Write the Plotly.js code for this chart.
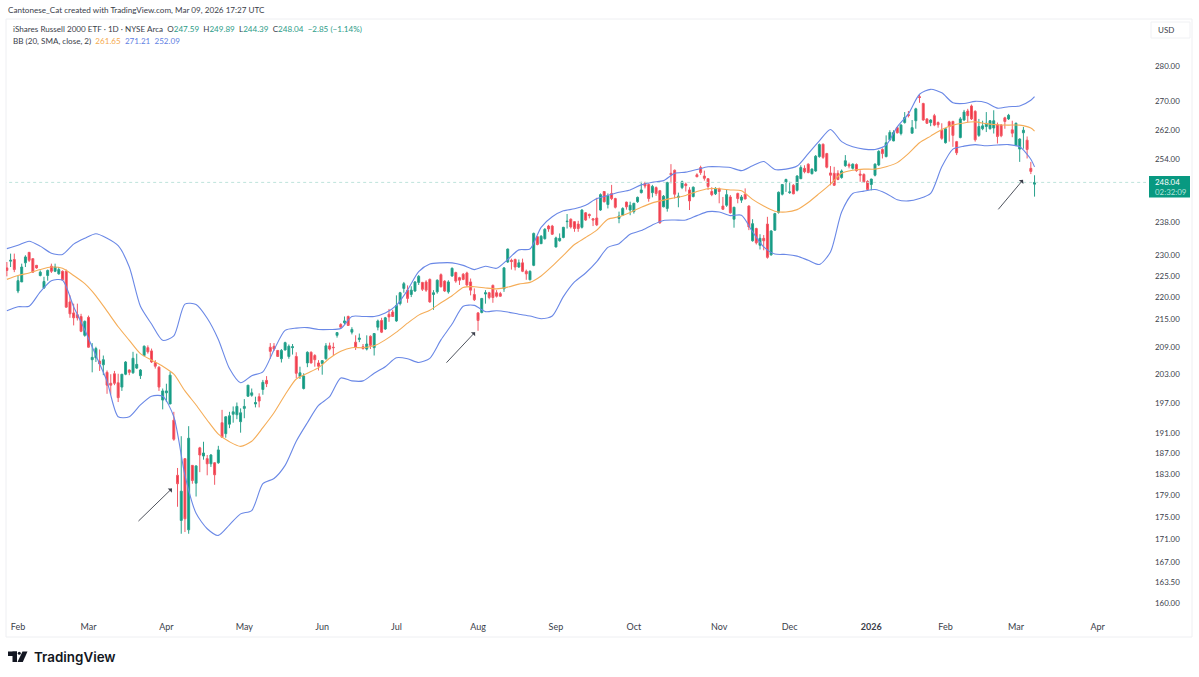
<!DOCTYPE html>
<html><head><meta charset="utf-8">
<script src="https://cdn.plot.ly/plotly-3.0.1.min.js"></script>
<style>html,body{margin:0;padding:0;background:#fff}#c{width:1199px;height:677px}</style>
</head><body><div id="c"></div>
<script>
const opens=[226.9,228.5,228.9,221.5,223.6,228.1,230.6,229.1,227.5,225.1,
222.2,225.1,227.3,226.1,225.5,226.1,226.1,219.0,216.5,216.1,
215.7,211.5,215.5,206.2,206.6,205.9,205.1,203.5,201.2,203.2,
201.3,200.4,203.1,204.0,203.4,204.4,202.8,207.1,208.8,208.1,
205.6,204.6,197.7,199.2,196.9,193.6,182.8,174.4,186.0,172.7,
184.7,181.3,188.1,186.5,186.0,185.0,185.2,185.2,193.1,190.9,
192.8,194.8,194.7,193.3,196.0,198.5,198.7,196.9,198.4,199.9,
201.8,208.9,209.1,208.2,206.4,208.3,206.9,208.8,206.9,202.6,
200.1,205.5,207.8,207.1,205.5,205.4,206.4,209.2,208.9,211.5,
213.9,214.3,215.7,212.2,210.0,210.6,209.0,208.5,211.3,208.8,
213.3,214.8,212.9,216.2,216.7,214.7,218.6,222.1,221.7,220.7,
221.5,223.5,223.5,223.6,224.2,220.7,221.3,225.3,223.8,221.3,
225.0,225.8,224.6,225.4,225.7,223.6,220.7,216.5,216.6,220.8,
221.1,222.8,221.1,220.9,222.0,228.3,228.7,228.9,227.1,228.1,
226.1,224.1,227.5,234.4,232.7,233.9,237.0,237.0,231.9,233.4,
234.2,238.1,238.7,238.1,237.5,236.7,240.3,239.9,238.8,239.0,
241.0,245.7,242.4,245.2,243.9,238.9,239.7,243.0,241.0,240.6,
243.1,245.4,247.8,247.5,245.4,246.7,245.9,241.8,241.4,250.4,
251.2,244.2,246.7,247.6,246.1,244.4,250.0,251.9,249.7,249.0,
245.7,245.1,246.4,242.0,242.2,244.3,238.7,245.2,243.5,245.0,
242.0,233.4,236.4,232.3,234.0,237.5,230.0,236.0,240.4,245.0,
248.1,245.4,247.3,246.0,249.0,251.7,252.8,250.3,251.0,254.8,
258.1,255.6,250.5,250.4,250.4,249.3,252.4,252.7,251.7,252.7,
250.2,250.1,248.3,247.5,249.9,252.6,256.7,254.8,259.3,259.0,
262.6,261.0,264.0,266.2,261.1,264.5,271.2,269.3,265.0,264.0,
265.9,264.0,261.9,258.5,264.2,264.3,258.8,259.9,264.7,267.2,
268.6,267.1,260.5,262.3,262.9,262.3,262.5,263.4,263.3,265.3,
265.0,262.0,257.8,256.8,261.2,259.2,251.7,247.59];
const highs=[228.3,230.3,230.3,225.1,227.9,229.9,230.7,229.1,227.6,226.3,
224.8,226.5,227.9,227.9,227.1,226.3,226.5,220.5,218.6,218.6,
216.3,214.8,215.9,209.8,209.0,208.4,207.1,203.9,203.1,203.8,
203.2,203.1,205.9,204.1,207.9,207.5,204.2,209.3,209.3,208.6,
206.1,204.8,200.1,201.1,203.6,195.3,184.2,190.4,186.0,192.4,
184.7,184.7,188.3,189.3,186.7,186.9,185.3,188.5,195.7,194.3,
195.3,196.4,197.2,196.0,197.9,200.8,200.1,198.4,199.1,201.9,
202.7,209.8,209.8,208.3,208.5,210.1,209.5,209.6,207.8,204.7,
203.3,208.0,208.0,207.4,206.1,206.1,209.8,209.9,209.9,212.2,
214.2,215.7,215.9,213.3,211.5,211.9,209.6,211.5,211.5,212.0,
215.0,215.4,215.6,217.4,217.2,220.5,221.3,223.6,222.8,222.6,
223.8,225.2,223.6,224.0,224.4,221.7,224.2,225.6,224.0,224.0,
227.0,226.0,224.8,225.7,226.0,224.4,222.1,216.7,219.8,221.7,
221.3,223.0,221.7,221.3,227.1,231.5,229.1,229.1,228.9,229.1,
226.5,226.3,235.4,234.5,234.8,236.5,237.3,237.3,234.4,235.2,
236.8,240.0,238.9,238.2,238.3,241.2,240.5,240.1,239.0,244.1,
245.2,245.8,245.2,247.4,244.1,240.6,241.7,243.1,243.1,242.8,
244.4,248.2,248.2,247.8,247.4,247.0,246.1,244.8,248.2,252.8,
251.4,245.4,248.5,248.0,246.8,247.0,250.4,252.4,251.1,249.1,
246.8,246.8,246.7,244.3,246.1,244.8,241.8,245.4,244.8,246.5,
242.2,238.7,236.6,235.0,234.8,239.3,236.0,240.3,245.7,247.6,
249.0,248.2,247.6,249.9,252.5,252.5,253.0,251.7,255.2,258.3,
258.3,255.8,252.3,252.1,251.2,251.4,255.2,253.2,253.0,253.0,
251.2,250.4,248.6,249.0,253.0,256.5,257.0,260.5,261.9,261.9,
262.8,263.6,266.9,267.2,264.7,268.1,271.7,269.5,265.2,264.9,
266.4,264.3,263.8,262.5,264.5,264.5,259.0,265.5,267.5,267.8,
269.0,267.4,265.0,264.5,266.9,264.7,267.4,264.0,263.6,265.6,
266.4,264.5,264.0,259.7,262.8,260.2,253.4,249.89];
const lows=[224.9,227.1,225.9,221.0,223.6,227.1,228.3,225.7,226.7,224.9,
222.0,223.9,225.7,225.9,225.3,223.9,217.7,215.4,213.7,214.8,
212.2,211.2,208.8,203.5,205.7,203.8,202.9,199.0,198.9,200.8,
197.3,199.6,202.9,202.9,203.2,204.2,202.1,206.9,207.5,205.5,
204.3,199.6,195.8,197.3,196.9,189.5,176.9,172.0,172.3,172.0,
181.2,178.8,183.4,185.8,182.8,184.4,181.0,185.0,190.2,190.1,
192.0,193.1,193.8,191.1,194.0,198.4,198.4,196.2,196.2,198.8,
200.4,206.4,208.1,206.8,205.6,208.2,206.4,207.3,202.3,202.1,
199.9,204.6,205.4,204.7,203.9,203.0,206.2,208.2,207.1,211.0,
213.0,213.9,213.6,211.7,208.3,210.0,208.4,208.2,208.5,207.1,
212.6,212.0,212.7,214.5,215.6,214.5,218.2,221.1,218.8,220.1,
221.3,222.9,221.5,221.3,218.8,217.2,220.9,222.3,221.3,220.9,
224.8,223.4,222.9,224.0,222.5,220.5,219.2,212.5,216.4,218.6,
219.6,218.8,220.0,220.2,221.3,228.1,226.5,226.3,226.9,225.9,
224.1,224.0,227.3,232.3,232.6,233.7,235.6,234.8,231.8,233.2,
234.0,236.4,236.4,235.6,235.6,236.4,238.3,238.9,237.0,237.0,
240.8,242.9,241.4,243.5,241.4,237.7,239.5,241.1,239.7,240.1,
242.8,245.2,246.5,243.1,244.2,244.6,237.6,241.7,240.6,247.8,
243.9,241.7,246.3,245.7,241.0,244.2,249.4,250.0,248.5,246.1,
244.5,244.8,242.7,241.0,241.8,240.1,236.6,242.7,242.8,243.7,
236.0,233.2,232.5,231.3,231.1,229.1,229.8,235.9,240.1,244.7,
245.6,245.1,245.0,245.7,248.9,250.4,250.4,250.1,250.8,254.5,
254.2,251.7,247.3,247.1,248.6,249.0,252.1,251.7,251.4,250.8,
248.2,247.9,246.0,246.0,249.6,252.3,254.3,254.6,259.0,258.9,
261.0,260.5,263.7,265.4,261.0,262.3,269.5,264.5,263.6,263.0,
263.0,262.6,259.3,258.3,258.8,257.4,255.2,259.7,264.5,264.0,
264.7,258.8,260.1,261.9,261.4,262.1,261.0,258.3,260.0,262.3,
264.7,260.0,257.6,253.4,256.9,254.3,250.2,244.39];
const closes=[226.3,228.7,226.5,223.9,227.1,229.5,228.7,225.9,226.9,225.9,
223.7,226.3,226.1,227.1,226.5,224.1,217.8,216.3,215.4,215.4,
212.4,214.6,208.9,206.7,208.6,205.3,206.2,200.8,200.8,201.2,
198.2,203.1,205.7,203.5,206.5,205.2,204.0,209.1,207.9,205.7,
204.8,200.4,199.6,199.6,202.9,189.8,181.2,179.8,174.7,190.0,
181.8,184.6,186.7,187.1,185.0,186.7,182.9,187.7,190.2,194.3,
194.5,195.3,196.4,195.1,196.4,200.8,199.2,197.2,197.5,201.4,
201.1,208.0,208.5,206.9,208.2,209.9,209.1,209.0,203.3,203.4,
202.7,207.8,205.5,206.2,204.8,206.0,209.2,208.5,208.8,212.1,
213.3,214.7,213.7,212.8,208.9,210.9,208.6,209.6,209.3,211.9,
214.7,212.2,215.4,215.6,215.7,218.2,221.1,223.2,219.8,221.7,
223.6,224.9,221.9,221.7,219.0,221.1,224.0,222.5,221.5,223.6,
226.8,223.8,224.0,224.2,222.9,221.7,219.5,214.8,219.8,221.1,
220.0,220.0,220.3,220.3,226.9,231.4,228.4,227.1,228.1,226.1,
225.5,226.1,235.2,232.5,234.5,236.2,236.3,235.0,234.1,234.0,
236.7,238.2,236.8,236.4,236.4,241.0,238.5,239.6,238.5,237.3,
244.9,243.1,244.6,243.9,241.7,239.5,241.4,241.8,242.2,242.7,
244.2,246.1,247.1,243.9,247.0,245.2,237.8,244.5,248.0,250.0,
245.0,244.5,248.2,247.2,243.3,246.8,249.5,250.6,249.1,247.0,
244.9,246.5,245.7,241.2,244.9,240.3,241.7,243.9,244.3,243.8,
236.8,237.6,232.9,234.0,233.4,229.4,235.8,240.1,245.5,247.5,
248.8,245.6,245.1,249.7,251.9,250.8,250.6,251.5,254.9,258.0,
254.6,252.0,249.9,247.3,248.8,251.0,253.7,252.3,252.8,251.1,
249.9,248.2,246.2,248.9,252.8,256.2,255.6,258.5,261.3,261.3,
261.2,263.3,265.4,265.9,262.6,267.8,271.0,264.7,263.8,264.7,
263.3,263.4,259.7,262.3,262.9,260.5,255.8,265.0,266.9,265.9,
265.0,259.3,262.9,263.1,263.8,264.5,264.5,260.2,260.4,264.3,
266.0,261.1,263.8,259.5,261.9,256.7,250.9,248.04];
const bbUpper=[231.5,232.3,233.3,232.1,230.4,230.1,232.6,234.0,235.1,234.0,232.2,227.1,218.0,214.0,210.4,211.4,218.5,218.4,215.3,210.6,204.3,201.3,202.8,203.6,208.3,212.6,213.1,213.2,212.8,212.8,213.0,215.7,215.7,215.7,216.5,218.2,221.7,226.0,227.8,228.1,228.1,227.5,226.5,227.3,226.8,228.9,231.2,231.4,236.7,239.3,240.8,241.3,242.2,243.9,244.7,245.5,246.1,247.4,248.1,248.5,250.4,250.7,251.4,252.1,252.1,251.9,251.1,252.4,253.5,251.4,251.5,252.3,255.6,259.0,262.1,258.8,257.4,256.8,256.7,257.9,262.8,266.4,271.9,273.3,272.3,269.5,269.3,269.9,269.5,268.0,268.4,268.6,270.2,271.21];
const bbBasis=[224.2,225.1,225.7,226.5,227.1,226.8,225.1,223.2,220.4,216.9,213.4,210.4,207.5,206.1,204.8,203.1,199.6,196.7,193.6,190.8,189.3,188.4,189.4,192.1,195.1,198.8,202.1,203.3,204.5,206.5,208.0,208.8,208.8,209.2,210.5,212.2,214.2,216.0,217.1,218.8,220.4,222.3,222.5,222.2,222.0,222.4,223.1,223.5,225.0,227.3,229.9,232.5,234.2,236.0,238.7,239.3,240.4,241.7,242.8,243.5,244.1,244.7,245.7,246.4,246.4,246.1,245.9,243.7,242.0,240.7,240.5,241.1,242.9,245.2,247.6,250.4,251.2,251.5,251.5,252.1,253.2,255.6,258.5,260.3,262.1,263.3,263.9,264.2,263.7,263.4,263.3,263.3,262.5,261.65];
const bbLower=[217.0,217.9,218.0,221.3,223.9,224.0,217.9,212.7,207.1,201.6,194.3,194.3,196.7,198.5,198.5,194.3,182.8,175.7,172.9,171.7,173.6,175.6,176.2,181.2,182.2,184.7,189.4,193.1,196.6,198.4,202.3,201.7,201.7,203.3,204.7,206.6,206.4,205.6,206.5,210.5,214.0,218.0,218.2,216.8,217.0,216.7,216.2,215.8,215.2,215.8,220.2,223.6,225.7,228.4,231.8,232.7,235.0,235.9,237.3,238.4,238.5,238.5,239.6,240.6,240.5,239.6,239.7,235.6,231.9,230.2,230.1,229.7,228.7,227.7,230.7,240.5,245.2,245.8,246.2,245.2,243.6,243.3,243.9,245.2,252.1,256.8,257.6,258.0,257.7,257.9,258.0,257.4,254.1,252.09];
const priceTicks=[280,270,262,254,238,230,225,220,215,209,203,197,191,187,183,179,175,171,167,163.5,160];
const monthLabels=['Feb','Mar','Apr','May','Jun','Jul','Aug','Sep','Oct','Nov','Dec','<b>2026</b>','Feb','Mar','Apr'];
const monthSessions=[0,19,40,61,82,102,124,145,166,189,208,230,250,269,291];
const lastClose=248.04;
const arrowTips=[[41.5,180.3],[123.2,212.2],[270.9,248.7]];
const arrowTails=[[-35,34],[-30,32],[-26,31]];

const W=1199,H=677,L=6,R=53,T=19,B=63;
const pw=W-L-R,ph=H-T-B;
const px=v=>(v-L)/pw, py=v=>(H-B-v)/ph;
const sessions=closes.map((_,k)=>k-3);
const bbSessions=bbUpper.map((_,k)=>k===bbUpper.length-1?274:k*3-3);
const GREEN='#089981',RED='#f23645';
const font='Lato, "Noto Sans", sans-serif';
const bandLine=(c)=>({color:c,width:1.1,shape:'spline',smoothing:0.7});

const traces=[
 {type:'candlestick',x:sessions,open:opens,high:highs,low:lows,close:closes,
  increasing:{line:{color:'#2aa28d',width:1},fillcolor:GREEN},
  decreasing:{line:{color:'#f25865',width:1},fillcolor:RED},hoverinfo:'skip',showlegend:false},
 {type:'scatter',mode:'lines',x:[-4,305],y:[lastClose,lastClose],line:{color:'#bfe3dc',width:1,dash:'dot'},showlegend:false,hoverinfo:'skip'},
 {type:'scatter',mode:'lines',x:bbSessions,y:bbBasis,line:bandLine('#f5ad58'),showlegend:false,hoverinfo:'skip'},
 {type:'scatter',mode:'lines',x:bbSessions,y:bbUpper,line:bandLine('#6a88e6'),showlegend:false,hoverinfo:'skip'},
 {type:'scatter',mode:'lines',x:bbSessions,y:bbLower,line:bandLine('#6a88e6'),showlegend:false,hoverinfo:'skip'}
];
const txt=(x,y,text,size,extra)=>Object.assign({xref:'paper',yref:'paper',x:px(x),y:py(y),text,showarrow:false,xanchor:'left',yanchor:'middle',
  font:{family:font,size:size,color:'#3a3e4a'}},extra||{});
const g=s=>`<span style="color:#2c9c88">${s}</span>`;
const annotations=[
 txt(6,10,'Cantonese_Cat created with TradingView.com, Mar 09, 2026 17:27 UTC',8.15),
 txt(11,29,'iShares Russell 2000 ETF · 1D · NYSE Arca  O'+g('247.59')+'  H'+g('249.89')+'  L'+g('244.39')+'  C'+g('248.04')+'  '+g('−2.85 (−1.14%)'),8.1),
 txt(11,41,'BB (20, SMA, close, 2)  <span style="color:#f5a94e">261.65</span>  <span style="color:#5f7fe3">271.21</span>  <span style="color:#5f7fe3">252.09</span>',8.1),
 txt(1156,30,'USD',8),
 txt(32,657,'TradingView',13.4,{font:{family:'Inter, sans-serif',size:13.4,color:'#131722',weight:600}}),
 txt(1153,182,'248.04',7.9,{font:{family:font,size:7.9,color:'#ffffff'}}),
 txt(1153,192,'02:32:09',7.9,{font:{family:font,size:7.9,color:'#b5e3da'}}),
 ...arrowTips.map((t,k)=>({x:t[0],y:Math.log10(t[1]),xref:'x',yref:'y',ax:arrowTails[k][0],ay:arrowTails[k][1],axref:'pixel',ayref:'pixel',text:'',
   showarrow:true,arrowhead:1,arrowsize:1.1,arrowwidth:0.9,arrowcolor:'#3a3e4a'}))
];
const shapes=[
 {type:'rect',xref:'paper',yref:'paper',x0:0,x1:px(1192),y0:py(637),y1:py(19),line:{color:'#eeeff2',width:1},fillcolor:'rgba(0,0,0,0)',layer:'below'},
 {type:'rect',xref:'paper',yref:'paper',x0:px(1151),x1:px(1190),y0:py(38),y1:py(22),line:{color:'#f0f1f4',width:1},fillcolor:'#ffffff'},
 {type:'rect',xref:'paper',yref:'paper',x0:px(1149),x1:px(1190),y0:py(197.5),y1:py(176),fillcolor:GREEN,line:{width:0}},
 {type:'rect',xref:'paper',yref:'paper',x0:px(8),x1:px(17),y0:py(656),y1:py(651.5),fillcolor:'#131722',line:{width:0}},
 {type:'rect',xref:'paper',yref:'paper',x0:px(12.5),x1:px(17),y0:py(662),y1:py(651.5),fillcolor:'#131722',line:{width:0}},
 {type:'circle',xref:'paper',yref:'paper',x0:px(17.8),x1:px(20.8),y0:py(654.8),y1:py(651.8),fillcolor:'#131722',line:{width:0}},
 {type:'path',xref:'paper',yref:'paper',path:`M ${px(22.5)} ${py(651.5)} L ${px(27.5)} ${py(651.5)} L ${px(22.8)} ${py(662)} L ${px(17.5)} ${py(662)} Z`,fillcolor:'#131722',line:{width:0}}
];
const layout={width:W,height:H,margin:{l:L,r:R,t:T,b:B,pad:0},paper_bgcolor:'#fff',plot_bgcolor:'#fff',showlegend:false,boxgap:0.25,
 font:{family:font,color:'#3a3e4a'},
 xaxis:{type:'linear',range:[(L-18)/3.71,(W-R-18)/3.71],tickmode:'array',tickvals:monthSessions,ticktext:monthLabels,showgrid:false,zeroline:false,showline:false,ticklen:0,
   tickfont:{family:font,size:9,color:'#3a3e4a'},tickangle:0,ticklabelstandoff:6,rangeslider:{visible:false},fixedrange:true},
 yaxis:{type:'log',side:'right',range:[Math.log10(158.2),Math.log10(294.08)],tickmode:'array',tickvals:priceTicks,ticktext:priceTicks.map(v=>v.toFixed(2)),showgrid:false,zeroline:false,showline:false,ticklen:0,
   tickfont:{family:font,size:7.9,color:'#3a3e4a'},ticklabelstandoff:8,fixedrange:true},
 annotations,shapes};
Plotly.newPlot('c',traces,layout,{displayModeBar:false,responsive:false});
</script></body></html>
